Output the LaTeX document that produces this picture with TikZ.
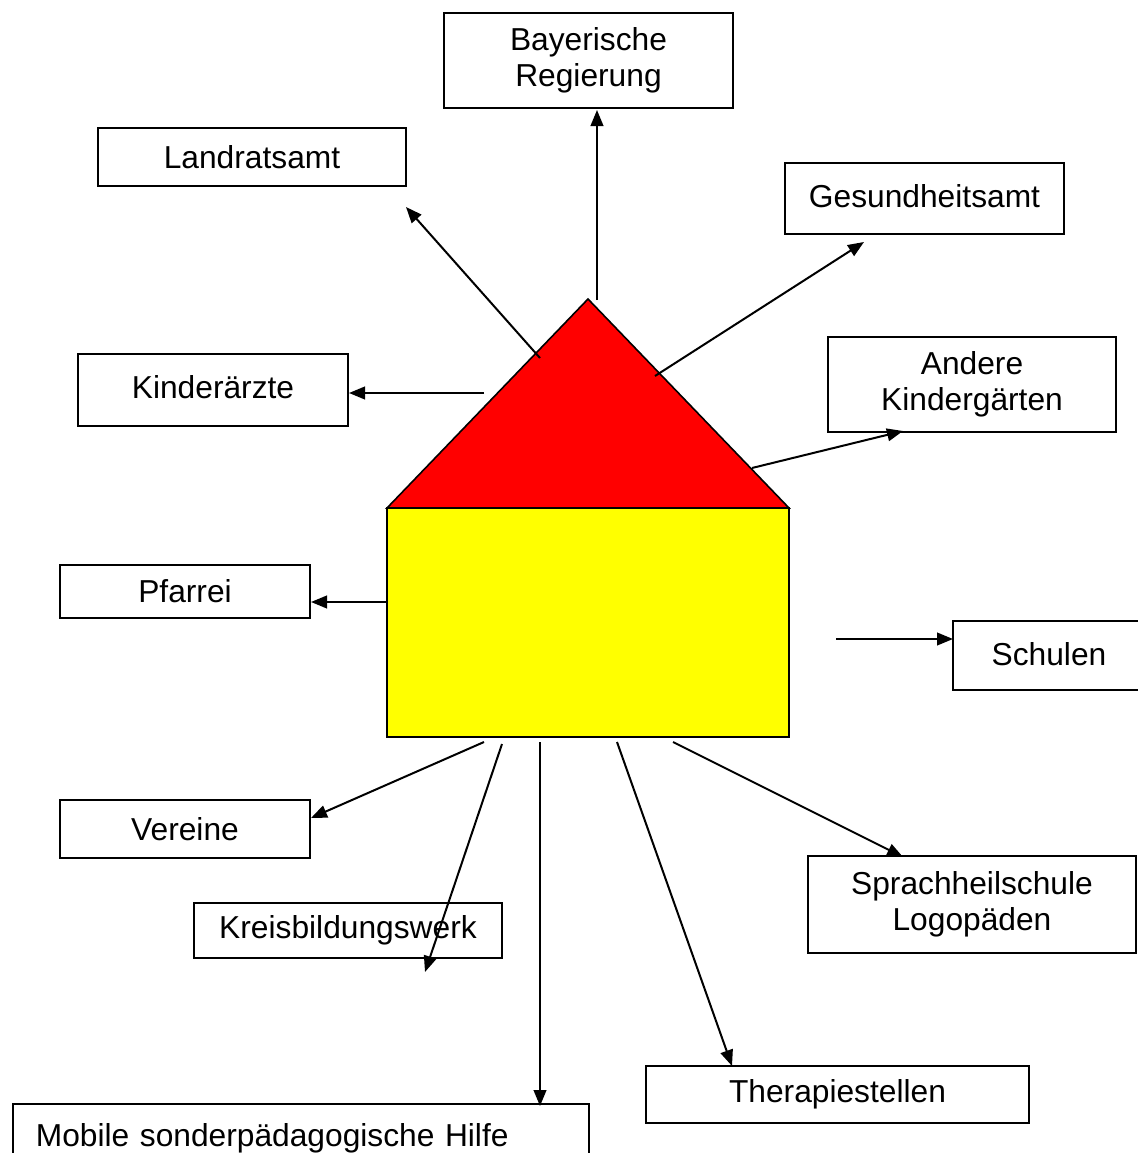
\documentclass[tikz,border=0pt]{standalone}
\usepackage{fontspec}
\setmainfont{Liberation Sans}
\usetikzlibrary{arrows.meta}
\definecolor{roofred}{RGB}{255,0,0}
\definecolor{wallyellow}{RGB}{255,255,0}
\def\pxu{0.75pt}
\tikzset{
  box/.style={draw, line width=1.3pt, inner sep=0pt, align=center,
    font=\fontsize{23.8}{27}\selectfont},
  arr/.style={line width=1.5pt, -{Triangle[length=12pt,width=9.5pt]}},
}
\begin{document}
\begin{tikzpicture}[x=0.75pt,y=-0.75pt]
\useasboundingbox (0,0) rectangle (1138,1153);
% house
\draw[line width=1.2pt, fill=roofred] (387,508) -- (588,299) -- (789,508) -- cycle;
\draw[line width=1.2pt, fill=wallyellow] (387,508) rectangle (789,737);
% boxes
\node[box, minimum width=289*\pxu, minimum height=95*\pxu] (breg) at (588.5,60.5) {\raisebox{3pt}{}Bayerische\\Regierung};
\node[box, minimum width=308*\pxu, minimum height=58*\pxu] (land) at (252,157) {Landratsamt};
\node[box, minimum width=279*\pxu, minimum height=71*\pxu] (gesund) at (924.5,198.5) {\raisebox{4pt}{Gesundheitsamt}};
\node[box, minimum width=270*\pxu, minimum height=72*\pxu] (kind) at (213,390) {\raisebox{4pt}{Kinderärzte}};
\node[box, minimum width=288*\pxu, minimum height=95*\pxu] (andere) at (972,384.5) {Andere\\Kindergärten};
\node[box, minimum width=250*\pxu, minimum height=53*\pxu] (pfarrei) at (185,591.5) {Pfarrei};
\node[box, minimum width=192*\pxu, minimum height=69*\pxu] (schulen) at (1049,655.5) {\raisebox{3pt}{Schulen}};
\node[box, minimum width=250*\pxu, minimum height=58*\pxu] (vereine) at (185,829) {Vereine};
\node[box, minimum width=308*\pxu, minimum height=55*\pxu] (kreis) at (348,930.5) {Kreisbildungswerk};
\node[box, minimum width=328*\pxu, minimum height=97*\pxu] (sprach) at (972,904.5) {Sprachheilschule\\Logopäden};
\node[box, minimum width=383*\pxu, minimum height=57*\pxu] (thera) at (837.5,1094.5) {Therapiestellen};
\node[box, anchor=north west, minimum height=68*\pxu, text width=530*\pxu, inner xsep=23*\pxu, align=left] (mobile) at (12,1103) {Mobile sonderpädagogische Hilfe};
% arrow end points
\coordinate (s1) at (597,300);  \coordinate (e1) at (597,110);
\coordinate (s2) at (540,358);  \coordinate (e2) at (406,207);
\coordinate (s3) at (655,376);  \coordinate (e3) at (864,242);
\coordinate (s4) at (484,393);  \coordinate (e4) at (349,393);
\coordinate (s5) at (752,468);  \coordinate (e5) at (903,431);
\coordinate (s6) at (387,602);  \coordinate (e6) at (311,602);
\coordinate (s7) at (836,639);  \coordinate (e7) at (953,639);
\coordinate (s8) at (484,742);  \coordinate (e8) at (311,818);
\coordinate (s9) at (502,744);  \coordinate (e9) at (425,972);
\coordinate (s10) at (540,742); \coordinate (e10) at (540,1106);
\coordinate (s11) at (617,742); \coordinate (e11) at (732,1066);
\coordinate (s12) at (673,742); \coordinate (e12) at (903,857);
\foreach \i in {1,...,12} { \draw[arr] (s\i) -- (e\i); }
\end{tikzpicture}
\end{document}
